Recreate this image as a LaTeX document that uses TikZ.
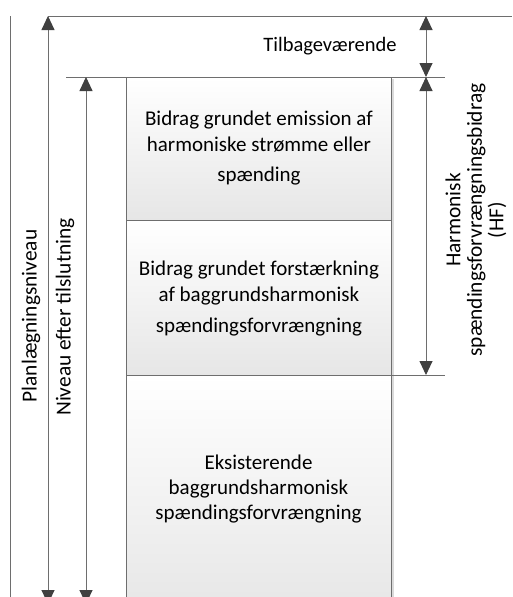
\documentclass[tikz,border=0pt]{standalone}
\usepackage{fontspec}
\setmainfont{Carlito}
\usetikzlibrary{arrows.meta}
\definecolor{linegray}{HTML}{6E6E6E}
\definecolor{tipgray}{HTML}{404040}
\definecolor{boxgray}{HTML}{E6E6E6}
\definecolor{shadowgray}{HTML}{DADADA}
\tikzset{
  guide/.style={draw=linegray, line width=0.9pt},
  dim/.style={draw=linegray, line width=0.9pt, {Triangle[length=14pt,width=13pt,color=tipgray]}-{Triangle[length=14pt,width=13pt,color=tipgray]}},
  layer/.style={draw=linegray, line width=0.9pt, top color=white, bottom color=boxgray, minimum width=265pt, inner sep=0pt},
  lbl/.style={font=\fontsize{21}{26}\selectfont, align=center, inner sep=0pt},
  vlbl/.style={lbl, rotate=90, font=\fontsize{21.4}{21.5}\selectfont},
}
\begin{document}
\begin{tikzpicture}[x=1pt,y=-1pt]
\useasboundingbox[fill=white] (0,0) rectangle (512,597);
% faint shadows
\fill[shadowgray] (391.5,79) rectangle (394,600);
\fill[shadowgray] (128,221) rectangle (391,222.5);
\fill[shadowgray] (128,376) rectangle (391,377.5);
% boxes
\node[layer, minimum height=143pt, anchor=north west] (b1) at (126,77) {};
\node[layer, minimum height=155pt, anchor=north west] (b2) at (126,220) {};
\node[layer, minimum height=240pt, anchor=north west] (b3) at (126,375) {};
\node[lbl] (t1) at (b1.center) [yshift=1pt] {Bidrag grundet emission af\\harmoniske strømme eller\\[4pt]spænding};
\node[lbl] (t2) at (b2.center) [yshift=-1pt] {Bidrag grundet forstærkning\\af baggrundsharmonisk\\[5pt]spændingsforvrængning};
\node[lbl, font=\fontsize{21}{25}\selectfont] (t3) at (258.5,489) {Eksisterende\\baggrundsharmonisk\\spændingsforvrængning};
% reference lines
\coordinate (tl) at (48,16);
\coordinate (tr) at (512,16);
\coordinate (il) at (66,77);
\coordinate (ir) at (445,77);
\coordinate (hl) at (391,375);
\coordinate (hr) at (445,375);
\coordinate (bt) at (10,16);
\coordinate (bb) at (10,600);
\draw[guide] (tl) -- (tr);
\draw[guide] (il) -- (ir);
\draw[guide] (hl) -- (hr);
\draw[guide] (bt) -- (bb);
% dimension arrows
\coordinate (p1) at (48,16);
\coordinate (p2) at (48,604);
\coordinate (n1) at (86,77);
\coordinate (n2) at (86,604);
\coordinate (r1) at (426,16);
\coordinate (r2) at (426,77);
\coordinate (h1) at (426,77);
\coordinate (h2) at (426,375);
\draw[dim] (p1) -- (p2);
\draw[dim] (n1) -- (n2);
\draw[dim] (r1) -- (r2);
\draw[dim] (h1) -- (h2);
% labels
\node[lbl, font=\fontsize{20.5}{24}\selectfont] (lr) at (330,46) {Tilbageværende};
\node[vlbl] (lp) at (31,316) {Planlægningsniveau};
\node[vlbl] (ln) at (65,317) {Niveau efter tilslutning};
\node[vlbl] (lh) at (476,220) {Harmonisk\\spændingsforvrængningsbidrag\\(HF)};
\end{tikzpicture}
\end{document}
